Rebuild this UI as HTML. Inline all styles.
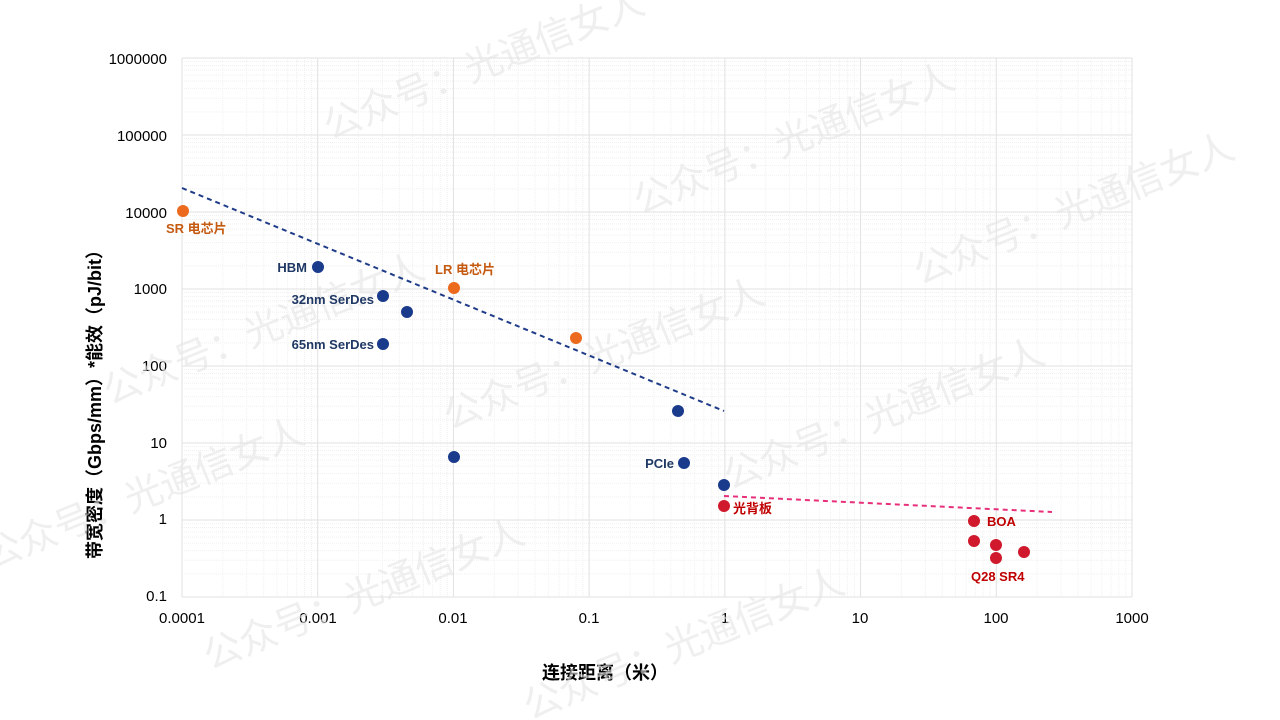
<!DOCTYPE html>
<html><head><meta charset="utf-8"><style>
body{margin:0;background:#fff;width:1280px;height:720px;overflow:hidden}
svg{display:block;font-family:"Liberation Sans","Noto Sans CJK SC",sans-serif}
</style></head><body>
<svg id="s" width="1280" height="720" viewBox="0 0 1280 720">
<g id="grid"></g>
<g font-size="15" fill="#000" text-anchor="end">
<text x="167" y="64">1000000</text><text x="167" y="141">100000</text><text x="167" y="218">10000</text>
<text x="167" y="294">1000</text><text x="167" y="371">100</text><text x="167" y="448">10</text>
<text x="167" y="524">1</text><text x="167" y="601">0.1</text>
</g>
<g font-size="15" fill="#000" text-anchor="middle">
<text x="182" y="623">0.0001</text><text x="318" y="623">0.001</text><text x="453" y="623">0.01</text>
<text x="589" y="623">0.1</text><text x="725" y="623">1</text><text x="860" y="623">10</text>
<text x="996" y="623">100</text><text x="1132" y="623">1000</text>
</g>
<text x="605" y="679" font-size="18" font-weight="bold" text-anchor="middle">连接距离（米）</text>
<text transform="translate(101,400) rotate(-90)" font-size="18" font-weight="bold" text-anchor="middle">带宽密度（Gbps/mm）*能效（pJ/bit）</text>
<g fill="#e4e4e4" font-size="38" opacity="0.6">
<text transform="translate(330,140) rotate(-22)">公众号：光通信女人</text>
<text transform="translate(640,215) rotate(-22)">公众号：光通信女人</text>
<text transform="translate(920,285) rotate(-22)">公众号：光通信女人</text>
<text transform="translate(450,430) rotate(-22)">公众号：光通信女人</text>
<text transform="translate(730,490) rotate(-22)">公众号：光通信女人</text>
<text transform="translate(110,405) rotate(-22)">公众号：光通信女人</text>
<text transform="translate(-10,570) rotate(-22)">公众号：光通信女人</text>
<text transform="translate(210,670) rotate(-22)">公众号：光通信女人</text>
<text transform="translate(530,720) rotate(-22)">公众号：光通信女人</text>
</g>
<line x1="182" y1="188" x2="724" y2="411" stroke="#1f3c88" stroke-width="2" stroke-dasharray="5,4"/>
<line x1="724" y1="496" x2="1052" y2="512" stroke="#e8307a" stroke-width="2" stroke-dasharray="5,4"/>
<g fill="#ec6a1e">
<circle cx="183" cy="211" r="6"/><circle cx="454" cy="288" r="6"/><circle cx="576" cy="338" r="6"/>
</g>
<g fill="#1a3a8c">
<circle cx="318" cy="267" r="6"/><circle cx="383" cy="296" r="6"/><circle cx="407" cy="312" r="6"/>
<circle cx="383" cy="344" r="6"/><circle cx="454" cy="457" r="6"/><circle cx="678" cy="411" r="6"/>
<circle cx="684" cy="463" r="6"/><circle cx="724" cy="485" r="6"/>
</g>
<g fill="#d0192c">
<circle cx="724" cy="506" r="6"/><circle cx="974" cy="521" r="6"/><circle cx="974" cy="541" r="6"/>
<circle cx="996" cy="545" r="6"/><circle cx="996" cy="558" r="6"/><circle cx="1024" cy="552" r="6"/>
</g>
<g font-size="13" font-weight="bold">
<text x="166" y="233" fill="#c55a11">SR 电芯片</text>
<text x="435" y="274" fill="#c55a11">LR 电芯片</text>
<text x="307" y="272" fill="#1f3864" text-anchor="end">HBM</text>
<text x="374" y="304" fill="#1f3864" text-anchor="end">32nm SerDes</text>
<text x="374" y="349" fill="#1f3864" text-anchor="end">65nm SerDes</text>
<text x="674" y="468" fill="#1f3864" text-anchor="end">PCIe</text>
<text x="733" y="513" fill="#c00000">光背板</text>
<text x="987" y="526" fill="#c00000">BOA</text>
<text x="971" y="581" fill="#c00000">Q28 SR4</text>
</g>
</svg>
<script>
var g=document.getElementById('grid'),L=182,R=1132,T=58,B=597,dx=(R-L)/7,dy=(B-T)/7,h='';
for(var d=0;d<7;d++){for(var k=2;k<10;k++){var o=Math.log10(k);
var x=L+dx*(d+o),y=B-dy*(d+o);
h+='<line x1="'+x+'" y1="'+T+'" x2="'+x+'" y2="'+B+'" stroke="#f0f0f0" stroke-width="1" stroke-dasharray="1,1"/>';
h+='<line x1="'+L+'" y1="'+y+'" x2="'+R+'" y2="'+y+'" stroke="#f0f0f0" stroke-width="1" stroke-dasharray="1,1"/>';}}
for(var i=0;i<=7;i++){var x=L+dx*i,y=T+dy*i;
h+='<line x1="'+x+'" y1="'+T+'" x2="'+x+'" y2="'+B+'" stroke="#e2e2e2"/>';
h+='<line x1="'+L+'" y1="'+y+'" x2="'+R+'" y2="'+y+'" stroke="#e2e2e2"/>';}
g.innerHTML=h;
</script>
</body></html>
